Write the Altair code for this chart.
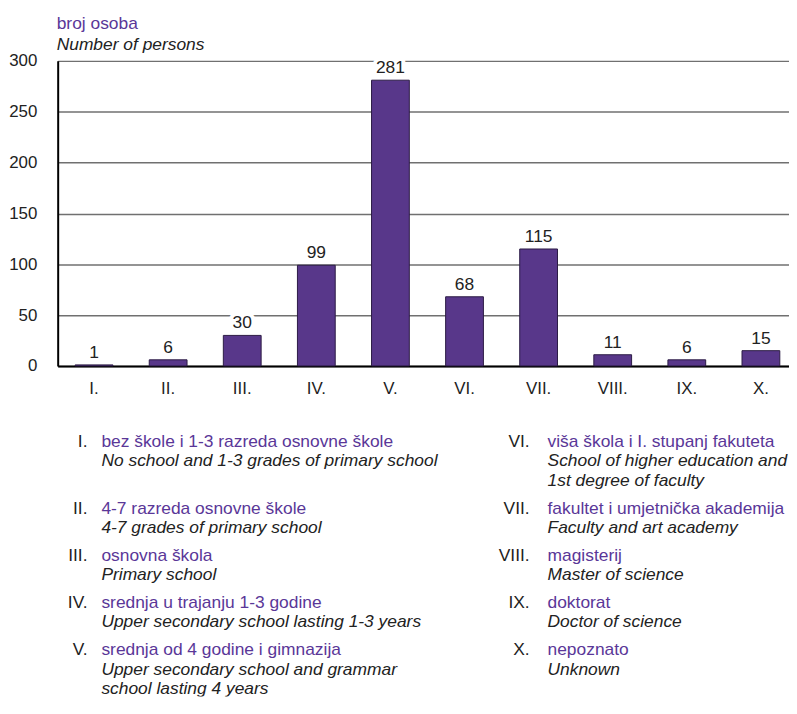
import altair as alt
import pandas as pd

# ---- data ----
categories = ["I.", "II.", "III.", "IV.", "V.", "VI.", "VII.", "VIII.", "IX.", "X."]
values = [1, 6, 30, 99, 281, 68, 115, 11, 6, 15]
y_ticks = [0, 50, 100, 150, 200, 250, 300]
title_hr = "broj osoba"
title_en = "Number of persons"
labels_hr = [
    "bez škole i 1-3 razreda osnovne škole",
    "4-7 razreda osnovne škole",
    "osnovna škola",
    "srednja u trajanju 1-3 godine",
    "srednja od 4 godine i gimnazija",
    "viša škola i I. stupanj fakuteta",
    "fakultet i umjetnička akademija",
    "magisterij",
    "doktorat",
    "nepoznato",
]
labels_en = [
    ["No school and 1-3 grades of primary school"],
    ["4-7 grades of primary school"],
    ["Primary school"],
    ["Upper secondary school lasting 1-3 years"],
    ["Upper secondary school and grammar", "school lasting 4 years"],
    ["School of higher education and", "1st degree of faculty"],
    ["Faculty and art academy"],
    ["Master of science"],
    ["Doctor of science"],
    ["Unknown"],
]

FONT = "Liberation Sans"
PURPLE_BAR = "#58378a"
PURPLE_TXT = "#5a3798"
DARK = "#222222"
FS = 17.5

# ---- bar chart ----
df = pd.DataFrame({"cat": categories, "val": values})

x = alt.X(
    "cat:N", sort=categories,
    scale=alt.Scale(paddingInner=0.49, paddingOuter=0.18, align=0.655),
    axis=alt.Axis(title=None, labelAngle=0, ticks=False, domainColor="black",
                  domainWidth=2, labelPadding=15, labelFontSize=17,
                  labelColor=DARK, grid=False),
)
y = alt.Y(
    "val:Q", scale=alt.Scale(domain=[0, 300], nice=False),
    axis=alt.Axis(title=None, values=y_ticks, ticks=False, domainColor="black",
                  domainWidth=2, labelPadding=21, labelFontSize=17,
                  labelColor=DARK, gridColor="#707070", gridWidth=1.5),
)
base = alt.Chart(df).encode(x=x, y=y)
halo = base.mark_text(baseline="bottom", dy=-3, fontSize=17.5, color="white",
                      stroke="white", strokeWidth=8).encode(text="val:Q")
bars = base.mark_bar(color=PURPLE_BAR, stroke="#2b1b45", strokeWidth=1)
nums = base.mark_text(baseline="bottom", dy=-3, fontSize=17.5, color=DARK).encode(text="val:Q")

top = alt.layer(halo, bars, nums).properties(
    width=736, height=307,
    title=alt.TitleParams(
        text=title_hr, subtitle=title_en, anchor="start", frame="group",
        color=PURPLE_TXT, subtitleColor=DARK, fontSize=FS, subtitleFontSize=FS,
        fontWeight="normal", subtitleFontStyle="italic", subtitlePadding=4,
        offset=-2, dx=-1,
    ),
)

# ---- legend (explanation of categories) ----
GAP = 0.45
records = []
pos = 0.0
half = len(categories) // 2
for r in range(half):
    entries = [r, r + half]
    nlines = max(1 + len(labels_en[i]) for i in entries)
    for c, i in enumerate(entries):
        records.append({"col": c, "line": pos, "text": categories[i], "kind": "num"})
        records.append({"col": c, "line": pos, "text": labels_hr[i], "kind": "hr"})
        for k, t in enumerate(labels_en[i]):
            records.append({"col": c, "line": pos + 1 + k, "text": t, "kind": "en"})
    pos += nlines + GAP
leg = pd.DataFrame(records)
last = leg["line"].max()
LINE_PX = 19.4

ly = alt.Y("line:Q", scale=alt.Scale(domain=[-0.5, last + 0.4], reverse=True), axis=None)
x_num = alt.X("col:Q", scale=alt.Scale(domain=[0, 1], range=[30, 475]), axis=None)
x_txt = alt.X("col:Q", scale=alt.Scale(domain=[0, 1], range=[44, 493]), axis=None)

l_num = alt.Chart(leg).transform_filter("datum.kind == 'num'").mark_text(
    align="right", baseline="middle", fontSize=FS, color=DARK, clip=True
).encode(x=x_num, y=ly, text="text:N")
l_hr = alt.Chart(leg).transform_filter("datum.kind == 'hr'").mark_text(
    align="left", baseline="middle", fontSize=FS, color=PURPLE_TXT, clip=True
).encode(x=x_txt, y=ly, text="text:N")
l_en = alt.Chart(leg).transform_filter("datum.kind == 'en'").mark_text(
    align="left", baseline="middle", fontSize=FS, color=DARK,
    fontStyle="italic", clip=True
).encode(x=x_txt, y=ly, text="text:N")
legend = (
    alt.layer(l_num, l_hr, l_en)
    .resolve_scale(x="independent")
    .properties(width=736, height=LINE_PX * (last + 0.9))
)

chart = (
    alt.vconcat(top, legend, spacing=36)
    .properties(padding={"left": 0, "top": 5, "right": 0, "bottom": 0})
    .configure(font=FONT)
    .configure_view(stroke=None)
)
chart.save("out.html", embed_options={"renderer": "svg", "actions": False})
